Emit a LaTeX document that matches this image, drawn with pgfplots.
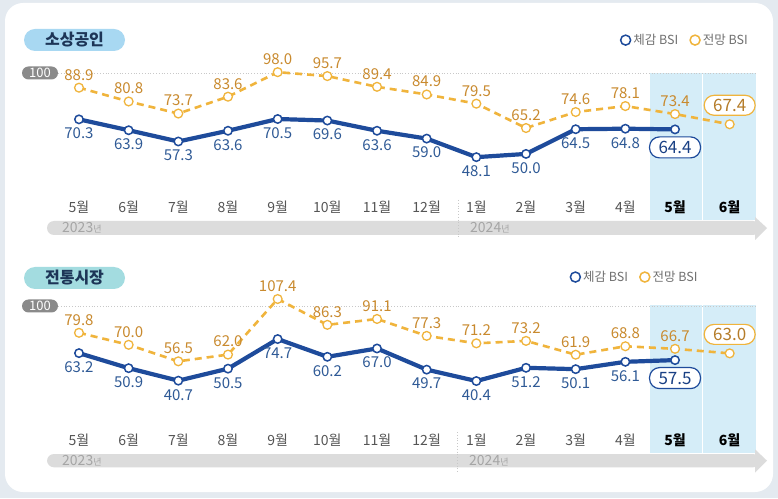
\documentclass[border=0pt]{standalone}
\usepackage{fontspec}
\setmainfont{Noto Sans CJK KR}
\usepackage{pgfplots}
\pgfplotsset{compat=1.18}
\definecolor{bgc}{HTML}{E4EAF0}
\definecolor{bluec}{HTML}{1E4B9B}
\definecolor{bluetext}{HTML}{2F5A96}
\definecolor{orangec}{HTML}{F0B43C}
\definecolor{orangetext}{HTML}{C98A2E}
\definecolor{shadec}{HTML}{D5EDF8}
\definecolor{pillone}{HTML}{A8D8F2}
\definecolor{pilltwo}{HTML}{A3DCE0}
\definecolor{pilltext}{HTML}{1D3557}
\definecolor{hundred}{HTML}{8A8A8A}
\definecolor{yearbar}{HTML}{DCDCDC}
\definecolor{yeartext}{HTML}{A5A5A5}
\definecolor{monthc}{HTML}{555555}
\definecolor{legtext}{HTML}{707070}
\definecolor{dotc}{HTML}{C8C8C8}
\pgfplotsset{
  /pgf/number format/assume math mode=true,
  panel/.style={
    anchor=south west, clip=false,
    x=49.67pt,
    xmin=-0.65, xmax=13.8,
    axis line style={draw=none}, tick style={draw=none},
    ytick=\empty,
    xtick={0,1,2,3,4,5,6,7,8,9,10,11,12,13.1},
    xticklabels={5월,6월,7월,8월,9월,10월,11월,12월,1월,2월,3월,4월,{\textcolor{black}{\textbf{5월}}},{\textcolor{black}{\textbf{6월}}}},
    xticklabel style={anchor=base, font=\fontsize{14}{16}\selectfont, text=monthc},
    legend style={draw=none, fill=none, font=\fontsize{12.5}{14}\selectfont, text=legtext, legend columns=2, anchor=east,
      /tikz/every even column/.append style={column sep=9pt}},
  },
  blueline/.style={bluec, line width=4.2pt, mark=*, mark size=4.2pt, mark options={fill=white, draw=bluec, line width=1.5pt},
    legend image code/.code={\draw[bluec, solid, line width=1.5pt, fill=white] (2pt,0pt) circle (5pt);}},
  orangeline/.style={orangec, line width=2.6pt, dash pattern=on 7pt off 5pt, mark=*, mark size=4.4pt, mark options={solid, fill=white, draw=orangec, line width=1.3pt},
    legend image code/.code={\draw[orangec, solid, line width=1.5pt, fill=white] (2pt,0pt) circle (5pt);}},
  numlab/.style={draw=none, mark=none, forget plot,
    nodes near coords={\pgfmathprintnumber[fixed,fixed zerofill,precision=1]{\pgfplotspointmeta}}},
  bluelab/.style={numlab, every node near coord/.append style={anchor=center, yshift=-14pt, text=bluetext, font=\fontsize{15}{17}\selectfont}},
  orangelab/.style={numlab, every node near coord/.append style={anchor=center, yshift=13pt, text=orangetext, font=\fontsize{15}{17}\selectfont}},
  blueboxlab/.style={numlab, every node near coord/.append style={anchor=center, yshift=-18pt, text=bluec!85!black, font=\fontsize{17}{19}\selectfont,
    draw=bluec, line width=1.2pt, fill=white, rounded corners=10pt, minimum width=51pt, minimum height=21pt, inner sep=1pt}},
  orangeboxlab/.style={numlab, every node near coord/.append style={anchor=center, yshift=19pt, text=orangetext!90!black, font=\fontsize{17}{19}\selectfont,
    draw=orangec, line width=1.2pt, fill=white, rounded corners=10pt, minimum width=51pt, minimum height=20pt, inner sep=1pt}},
}
\begin{document}
\begin{tikzpicture}
% background card
\fill[bgc] (0pt,0pt) rectangle (778pt,498pt);
\fill[white, rounded corners=18pt] (5pt,6pt) rectangle (773pt,495pt);

% shading and 100 lines (behind the axes)
\fill[shadec] (650.2pt,278pt) rectangle (702.3pt,425pt);
\fill[shadec] (703.3pt,278pt) rectangle (756pt,425pt);
\draw[dotc, dotted, line width=0.8pt] (58pt,425pt) -- (756pt,425pt);
\fill[shadec] (650.2pt,45pt) rectangle (702.3pt,193pt);
\fill[shadec] (703.3pt,45pt) rectangle (756pt,193pt);
\draw[dotc, dotted, line width=0.8pt] (58pt,192pt) -- (756pt,192pt);

% ---------------- Panel 1 ----------------
\begin{axis}[panel, at={(46.7pt,278pt)}, y=1.703pt, ymin=11.2, ymax=97.5,
  xticklabel style={yshift=7.5pt},
  legend style={at={(0.984,1.224)}}]
\addplot[blueline] coordinates {(0,70.3) (1,63.9) (2,57.3) (3,63.6) (4,70.5) (5,69.6) (6,63.6) (7,59.0) (8,48.1) (9,50.0) (10,64.5) (11,64.8) (12,64.4)};
\addlegendentry{체감 BSI}
\addplot[orangeline] coordinates {(0,88.9) (1,80.8) (2,73.7) (3,83.6) (4,98.0) (5,95.7) (6,89.4) (7,84.9) (8,79.5) (9,65.2) (10,74.6) (11,78.1) (12,73.4) (13.1,67.4)};
\addlegendentry{전망 BSI}
\addplot[bluelab] coordinates {(0,70.3) (1,63.9) (2,57.3) (3,63.6) (4,70.5) (5,69.6) (6,63.6) (7,59.0) (8,48.1) (9,50.0) (10,64.5) (11,64.8)};
\addplot[orangelab] coordinates {(0,88.9) (1,80.8) (2,73.7) (3,83.6) (4,98.0) (5,95.7) (6,89.4) (7,84.9) (8,79.5) (9,65.2) (10,74.6) (11,78.1) (12,73.4)};
\addplot[blueboxlab] coordinates {(12,64.4)};
\addplot[orangeboxlab] coordinates {(13.1,67.4)};
\end{axis}

% ---------------- Panel 2 ----------------
\begin{axis}[panel, at={(46.7pt,45pt)}, y=1.224pt, ymin=-18.4, ymax=102.5,
  xticklabel style={yshift=8pt},
  legend style={at={(0.914,1.189)}}]
\addplot[blueline] coordinates {(0,63.2) (1,50.9) (2,40.7) (3,50.5) (4,74.7) (5,60.2) (6,67.0) (7,49.7) (8,40.4) (9,51.2) (10,50.1) (11,56.1) (12,57.5)};
\addlegendentry{체감 BSI}
\addplot[orangeline] coordinates {(0,79.8) (1,70.0) (2,56.5) (3,62.0) (4,107.4) (5,86.3) (6,91.1) (7,77.3) (8,71.2) (9,73.2) (10,61.9) (11,68.8) (12,66.7) (13.1,63.0)};
\addlegendentry{전망 BSI}
\addplot[bluelab] coordinates {(0,63.2) (1,50.9) (2,40.7) (3,50.5) (4,74.7) (5,60.2) (6,67.0) (7,49.7) (8,40.4) (9,51.2) (10,50.1) (11,56.1)};
\addplot[orangelab] coordinates {(0,79.8) (1,70.0) (2,56.5) (3,62.0) (4,107.4) (5,86.3) (6,91.1) (7,77.3) (8,71.2) (9,73.2) (10,61.9) (11,68.8) (12,66.7)};
\addplot[blueboxlab] coordinates {(12,57.5)};
\addplot[orangeboxlab] coordinates {(13.1,63.0)};
\end{axis}

% title pills
\fill[pillone, rounded corners=11pt] (24pt,447pt) rectangle (125pt,469pt);
\node[text=pilltext, font=\fontsize{16}{18}\selectfont\bfseries] at (74.5pt,458pt) {소상공인};
\fill[pilltwo, rounded corners=11pt] (24pt,209pt) rectangle (125pt,231pt);
\node[text=pilltext, font=\fontsize{16}{18}\selectfont\bfseries] at (74.5pt,220pt) {전통시장};

% 100 pills
\fill[hundred, rounded corners=6.5pt] (22pt,418.5pt) rectangle (58pt,431.5pt);
\node[white, font=\fontsize{13}{14}\selectfont] at (40pt,425pt) {100};
\fill[hundred, rounded corners=6.5pt] (22pt,185.5pt) rectangle (58pt,198.5pt);
\node[white, font=\fontsize{13}{14}\selectfont] at (40pt,192pt) {100};

% year bars
\fill[yearbar, rounded corners=7pt] (47pt,263pt) rectangle (760pt,277pt);
\fill[yearbar] (755pt,281pt) -- (767pt,270pt) -- (755pt,258pt) -- cycle;
\node[anchor=west, text=yeartext, inner sep=0pt] at (62pt,270pt) {\fontsize{14}{15}\selectfont 2023\fontsize{9}{10}\selectfont 년};
\node[anchor=west, text=yeartext, inner sep=0pt] at (470pt,270pt) {\fontsize{14}{15}\selectfont 2024\fontsize{9}{10}\selectfont 년};
\draw[dotc, dotted, line width=0.8pt] (458pt,298pt) -- (458pt,260pt);

\fill[yearbar, rounded corners=7pt] (47pt,30.7pt) rectangle (760pt,44pt);
\fill[yearbar] (755pt,48.7pt) -- (767pt,37.3pt) -- (755pt,25.3pt) -- cycle;
\node[anchor=west, text=yeartext, inner sep=0pt] at (62pt,37.3pt) {\fontsize{14}{15}\selectfont 2023\fontsize{9}{10}\selectfont 년};
\node[anchor=west, text=yeartext, inner sep=0pt] at (469pt,37.3pt) {\fontsize{14}{15}\selectfont 2024\fontsize{9}{10}\selectfont 년};
\draw[dotc, dotted, line width=0.8pt] (457pt,66pt) -- (457pt,26pt);

\pgfresetboundingbox
\path[use as bounding box] (0pt,0pt) rectangle (778pt,498pt);
\end{tikzpicture}
\end{document}
